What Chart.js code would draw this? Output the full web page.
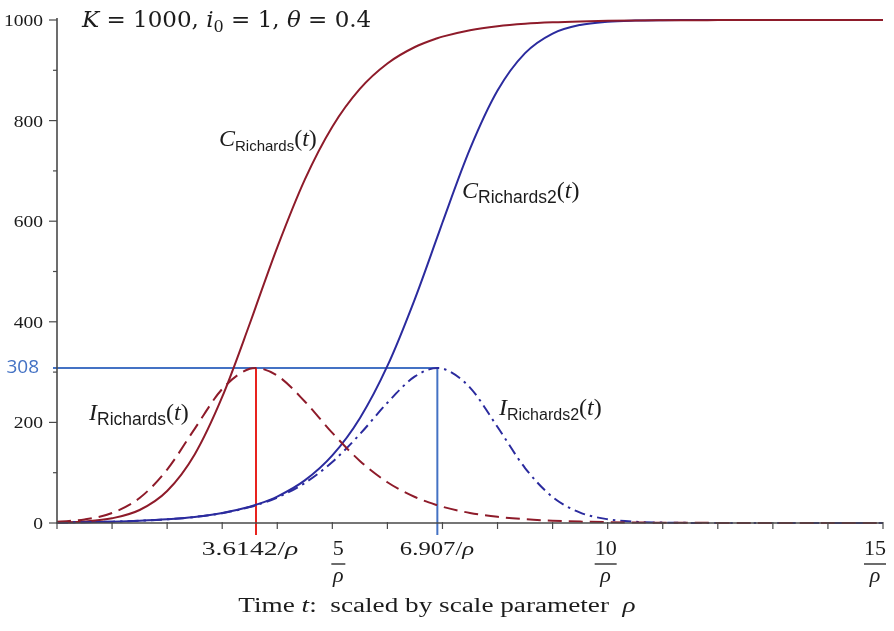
<!DOCTYPE html>
<html>
<head>
<meta charset="utf-8">
<script src="https://cdn.jsdelivr.net/npm/chart.js@4.4.1/dist/chart.umd.min.js"></script>
<style>
  html, body { margin: 0; padding: 0; background: #fff; }
  #wrap { width: 894px; height: 631px; }
</style>
</head>
<body>
<div id="wrap"><canvas id="chart" width="894" height="631"></canvas></div>
<script>
/* ===== RICHARDS CURVES ===== */

// time, in units of 1/rho
const t = [0, 0.5, 1, 1.5, 2, 2.5, 3, 3.5, 3.6142, 4, 4.5, 5, 5.5, 6, 6.5, 6.907, 7, 7.5, 8, 8.5, 9, 9.5, 10, 10.5, 11, 11.5, 12, 12.5, 13, 13.5, 14, 14.5, 15];

const cRichards = [1.0, 3.16, 9.42, 25.88, 63.64, 136.35, 250.65, 396.08, 431.2, 548.04, 682.69, 787.89, 863.04, 913.6, 946.3, 963.8, 966.94, 979.76, 987.66, 992.49, 995.43, 997.23, 998.32, 998.98, 999.38, 999.62, 999.77, 999.86, 999.92, 999.95, 999.97, 999.98, 999.99];
const iRichards = [2.34, 7.1, 19.9, 49.7, 106.24, 187.25, 266.35, 306.55, 308.0, 292.96, 241.67, 179.15, 123.44, 81.08, 51.66, 35.28, 32.29, 19.95, 12.24, 7.47, 4.55, 2.77, 1.68, 1.02, 0.62, 0.38, 0.23, 0.14, 0.08, 0.05, 0.03, 0.02, 0.01];
const cRichards2 = [1.0, 1.65, 2.72, 4.47, 7.36, 12.09, 19.82, 32.39, 36.2, 52.62, 84.7, 134.36, 208.33, 312.22, 445.78, 568.8, 597.41, 743.67, 859.64, 934.06, 973.05, 990.15, 996.69, 998.95, 999.68, 999.9, 999.97, 999.99, 1000, 1000, 1000, 1000, 1000];
const iRichards2 = [1.0, 1.65, 2.71, 4.46, 7.32, 11.99, 19.55, 31.65, 35.28, 50.66, 79.59, 121.36, 176.57, 239.08, 291.35, 308.0, 307.04, 269.07, 190.91, 109.3, 51.5, 20.74, 7.43, 2.46, 0.77, 0.23, 0.07, 0.02, 0, 0, 0, 0, 0];

const yTicks = [0, 200, 400, 600, 800, 1000];
const fracTicks = [5, 10, 15];
const peakTimes = [3.6142, 6.907];
const peakLabels = ['3.6142/', '6.907/'];
const peakValue = 308;

const RED = '#8e1b2a';
const BLUE = '#2b2b9e';
const GUIDE_BLUE = '#4472c4';
const GUIDE_RED = '#e8231e';
const AXIS = '#4a4a4a';
const TEXT = '#1c1c1c';
const SERIF = '"Liberation Serif", "Times New Roman", serif';
const SANS = '"Liberation Sans", Arial, sans-serif';
const MATH = '"DejaVu Serif", serif';

function pts(vals) {
  return t.map((x, i) => ({ x: x, y: vals[i] }));
}

// draws a run of differently styled pieces of text one after another,
// optionally stretched sideways by sx
function drawParts(ctx, parts, x, y, align, sx) {
  sx = sx || 1;
  let w = 0;
  parts.forEach(p => { ctx.font = p.font; w += ctx.measureText(p.text).width; });
  ctx.save();
  ctx.translate(align === 'center' ? x - w * sx / 2 : x, y);
  ctx.scale(sx, 1);
  ctx.textAlign = 'left';
  let cx = 0;
  parts.forEach(p => {
    ctx.font = p.font;
    ctx.fillText(p.text, cx, p.dy || 0);
    cx += ctx.measureText(p.text).width;
  });
  ctx.restore();
}

function curveLabel(sym, sub, subSize) {
  return [
    { text: sym, font: 'italic 24px ' + SERIF },
    { text: sub, font: subSize + 'px ' + SANS, dy: 5 },
    { text: '(', font: '24px ' + SERIF },
    { text: 't', font: 'italic 24px ' + SERIF },
    { text: ')', font: '24px ' + SERIF }
  ];
}

const overlay = {
  id: 'overlay',
  beforeDatasetsDraw(chart) {
    const ctx = chart.ctx, xs = chart.scales.x, ys = chart.scales.y;
    const x0 = xs.getPixelForValue(0), y0 = ys.getPixelForValue(0);
    const yp = ys.getPixelForValue(peakValue);
    ctx.save();
    ctx.lineWidth = 2;
    // horizontal guide at the peak value
    ctx.strokeStyle = GUIDE_BLUE;
    ctx.beginPath();
    ctx.moveTo(x0 - 4, yp);
    ctx.lineTo(xs.getPixelForValue(peakTimes[1]), yp);
    ctx.stroke();
    // vertical guides at the peak times
    const px1 = xs.getPixelForValue(peakTimes[0]);
    ctx.strokeStyle = GUIDE_RED;
    ctx.beginPath();
    ctx.moveTo(px1, yp);
    ctx.lineTo(px1, y0 + 12);
    ctx.stroke();
    const px2 = xs.getPixelForValue(peakTimes[1]);
    ctx.strokeStyle = GUIDE_BLUE;
    ctx.beginPath();
    ctx.moveTo(px2, yp);
    ctx.lineTo(px2, y0 + 12);
    ctx.stroke();
    ctx.restore();
  },
  afterDatasetsDraw(chart) {
    const ctx = chart.ctx, xs = chart.scales.x, ys = chart.scales.y;
    const x0 = xs.getPixelForValue(0), x1 = xs.getPixelForValue(15);
    const y0 = ys.getPixelForValue(0), y1 = ys.getPixelForValue(1000);
    ctx.save();

    // axes
    ctx.strokeStyle = AXIS;
    ctx.lineWidth = 1.6;
    ctx.beginPath();
    ctx.moveTo(x0, y1 - 2);
    ctx.lineTo(x0, y0);
    ctx.lineTo(x1, y0);
    ctx.stroke();

    ctx.lineWidth = 1.2;
    for (let v = 0; v <= 1000; v += 100) {
      const y = ys.getPixelForValue(v);
      const len = v % 200 === 0 ? 8 : 4;
      ctx.beginPath();
      ctx.moveTo(x0 - len, y);
      ctx.lineTo(x0, y);
      ctx.stroke();
    }
    for (let s = 0; s <= 15; s++) {
      const x = xs.getPixelForValue(s);
      ctx.beginPath();
      ctx.moveTo(x, y0 - 1);
      ctx.lineTo(x, y0 + 6);
      ctx.stroke();
    }

    // y tick labels
    ctx.fillStyle = TEXT;
    ctx.textBaseline = 'alphabetic';
    yTicks.forEach(v => {
      ctx.font = '17px ' + SERIF;
      const w = ctx.measureText(String(v)).width * 1.15;
      drawParts(ctx, [{ text: String(v), font: '17px ' + SERIF }], 43 - w, ys.getPixelForValue(v) + 6, 'left', 1.15);
    });

    // peak value label
    ctx.fillStyle = GUIDE_BLUE;
    ctx.font = '19px "Open Sans", ' + SANS;
    ctx.textAlign = 'right';
    ctx.textBaseline = 'middle';
    ctx.fillText(String(peakValue), 39, ys.getPixelForValue(peakValue));

    // x tick labels
    ctx.fillStyle = TEXT;
    ctx.textBaseline = 'alphabetic';
    const peakCentres = [250, 437];
    const peakStretch = [1.45, 1.3];
    peakTimes.forEach((p, i) => {
      drawParts(ctx, [
        { text: peakLabels[i], font: '19px ' + SERIF },
        { text: '\u03c1', font: 'italic 19px ' + SERIF }
      ], peakCentres[i], y0 + 32, 'center', peakStretch[i]);
    });
    const fracShift = { 5: 6, 10: -2, 15: -8 };
    fracTicks.forEach(f => {
      const x = xs.getPixelForValue(f) + fracShift[f];
      drawParts(ctx, [{ text: String(f), font: '21px ' + SERIF }], x, y0 + 32, 'center', 1.05);
      const half = f < 10 ? 7 : 11;
      ctx.strokeStyle = TEXT;
      ctx.lineWidth = 1.3;
      ctx.beginPath();
      ctx.moveTo(x - half, y0 + 41);
      ctx.lineTo(x + half, y0 + 41);
      ctx.stroke();
      drawParts(ctx, [{ text: '\u03c1', font: 'italic 21px ' + SERIF }], x, y0 + 59, 'center', 1.05);
    });

    // axis title
    drawParts(ctx, [
      { text: 'Time ', font: '20px ' + SERIF },
      { text: 't', font: 'italic 20px ' + SERIF },
      { text: ':  scaled by scale parameter  ', font: '20px ' + SERIF },
      { text: '\u03c1', font: 'italic 20px ' + SERIF }
    ], 437, y0 + 89, 'center', 1.36);

    // parameters
    drawParts(ctx, [
      { text: 'K', font: 'italic 23px ' + MATH },
      { text: ' = 1000, ', font: '23px ' + MATH },
      { text: 'i', font: 'italic 23px ' + MATH },
      { text: '0', font: '16px ' + MATH, dy: 5 },
      { text: ' = 1, ', font: '23px ' + MATH },
      { text: '\u03b8', font: 'italic 23px ' + MATH },
      { text: ' = 0.4', font: '23px ' + MATH }
    ], 82, 27);

    // curve names
    drawParts(ctx, curveLabel('C', 'Richards', 15), 219, 146);
    drawParts(ctx, curveLabel('C', 'Richards2', 17.5), 462, 198);
    drawParts(ctx, curveLabel('I', 'Richards', 17.5), 89, 420);
    drawParts(ctx, curveLabel('I', 'Richards2', 16), 499, 415);

    ctx.restore();
  }
};

new Chart(document.getElementById('chart'), {
  type: 'line',
  data: {
    datasets: [
      { data: pts(iRichards), borderColor: RED, borderDash: [14, 7] },
      { data: pts(iRichards2), borderColor: BLUE, borderDash: [11, 5, 2.5, 5] },
      { data: pts(cRichards), borderColor: RED },
      { data: pts(cRichards2), borderColor: BLUE }
    ]
  },
  options: {
    responsive: false,
    animation: false,
    layout: { padding: { left: 57, right: 11, top: 20, bottom: 108 } },
    elements: {
      point: { radius: 0 },
      line: { borderWidth: 2, fill: false, cubicInterpolationMode: 'monotone' }
    },
    datasets: { line: { clip: 6 } },
    scales: {
      x: { type: 'linear', min: 0, max: 15, display: false },
      y: { type: 'linear', min: 0, max: 1000, display: false }
    },
    plugins: {
      legend: { display: false },
      tooltip: { enabled: false }
    }
  },
  plugins: [overlay]
});
</script>
</body>
</html>
